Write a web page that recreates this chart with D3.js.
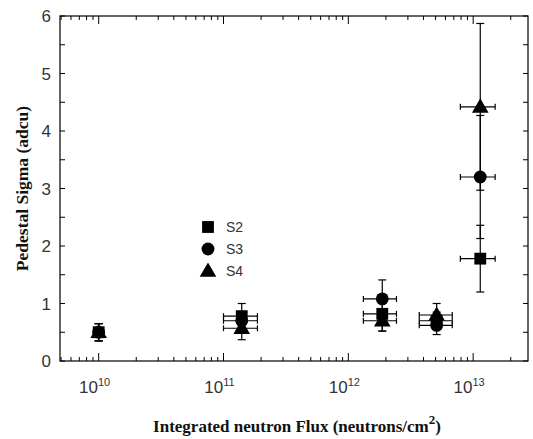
<!DOCTYPE html>
<html>
<head>
<meta charset="utf-8">
<script src="https://cdn.jsdelivr.net/npm/d3@7"></script>
<style>
  body { margin: 0; background: #fff; }
  svg { display: block; }
  .tick-label { font-family: "Liberation Sans", Arial, sans-serif; fill: #333; }
  .title { font-family: "Liberation Serif", "Times New Roman", serif; font-weight: bold; fill: #111; }
</style>
</head>
<body>
<svg width="533" height="439"></svg>
<script>
// flux values (neutrons/cm^2) and horizontal error limits
var flux    = [1e10, 1.4e11, 1.87e12, 5.1e12, 1.14e13];
var fluxLo  = [1e10, 1.0e11, 1.32e12, 3.7e12, 7.9e12];
var fluxHi  = [1e10, 1.87e11, 2.43e12, 6.8e12, 1.5e13];

var seriesNames = ["S2", "S3", "S4"];
var s2 = [0.50, 0.78, 0.82, 0.70, 1.78];
var s3 = [0.50, 0.70, 1.08, 0.62, 3.20];
var s4 = [0.50, 0.57, 0.70, 0.80, 4.42];
var s2err = [0.15, 0.22, 0.30, 0.15, 0.58];
var s3err = [0.15, 0.15, 0.33, 0.16, 1.07];
var s4err = [0.15, 0.20, 0.18, 0.20, 1.45];

var yTicks = [0, 1, 2, 3, 4, 5, 6];
var xTicks = [1e10, 1e11, 1e12, 1e13];

var svg = d3.select("svg");
var mLeft = 60, mRight = 528, mTop = 16, mBottom = 361;

var x = d3.scaleLog().domain([4.9e9, 2.75e13]).range([mLeft, mRight]);
var y = d3.scaleLinear().domain([0, 6]).range([mBottom, mTop]);

// frame
svg.append("rect")
    .attr("x", mLeft).attr("y", mTop)
    .attr("width", mRight - mLeft).attr("height", mBottom - mTop)
    .attr("fill", "none").attr("stroke", "#000").attr("stroke-width", 1.2);

// y ticks (left and right, pointing in)
var yAll = d3.range(0, 6.01, 0.5);
yAll.forEach(function(v) {
  svg.append("line").attr("x1", mLeft).attr("x2", mLeft + 5)
      .attr("y1", y(v)).attr("y2", y(v)).attr("stroke", "#000");
  svg.append("line").attr("x1", mRight).attr("x2", mRight - 5)
      .attr("y1", y(v)).attr("y2", y(v)).attr("stroke", "#000");
});
yTicks.forEach(function(v) {
  svg.append("text").attr("class", "tick-label")
      .attr("x", 51).attr("y", y(v) + 6)
      .attr("text-anchor", "end").attr("font-size", 17)
      .text(v);
});

// x ticks (log, bottom and top)
var minors = [];
for (var e = 9; e <= 13; e++) {
  for (var m = 1; m <= 9; m++) {
    var v = m * Math.pow(10, e);
    if (v >= x.domain()[0] && v <= x.domain()[1]) minors.push({v: v, major: m === 1});
  }
}
minors.forEach(function(t) {
  var len = t.major ? 8 : 4;
  svg.append("line").attr("x1", x(t.v)).attr("x2", x(t.v))
      .attr("y1", mBottom).attr("y2", mBottom - len).attr("stroke", "#000");
  svg.append("line").attr("x1", x(t.v)).attr("x2", x(t.v))
      .attr("y1", mTop).attr("y2", mTop + len).attr("stroke", "#000");
});
xTicks.forEach(function(v) {
  var t = svg.append("text").attr("class", "tick-label")
      .attr("x", x(v) - 4).attr("y", 393)
      .attr("text-anchor", "middle").attr("font-size", 17);
  t.append("tspan").text("10");
  t.append("tspan").attr("dy", -7).attr("font-size", 11).text(Math.round(Math.log10(v)));
});

// axis titles
svg.append("text").attr("class", "title")
    .attr("transform", "translate(28," + ((mTop + mBottom) / 2) + ") rotate(-90)")
    .attr("text-anchor", "middle").attr("font-size", 17.5)
    .text("Pedestal Sigma (adcu)");

var xt = svg.append("text").attr("class", "title")
    .attr("x", 297).attr("y", 432)
    .attr("text-anchor", "middle").attr("font-size", 17);
xt.append("tspan").text("Integrated neutron Flux (neutrons/cm");
xt.append("tspan").attr("dy", -8).attr("font-size", 13).text("2");
xt.append("tspan").attr("dy", 8).text(")");

// markers
var symbols = [d3.symbolSquare, d3.symbolCircle, d3.symbolTriangle];
var symSize = [140, 130, 120];
var vals = [s2, s3, s4];
var errs = [s2err, s3err, s4err];

var g = svg.append("g");
vals.forEach(function(arr, si) {
  arr.forEach(function(v, i) {
    var cx = x(flux[i]), cy = y(v);
    var err = errs[si][i];
    // vertical error bar
    g.append("line").attr("x1", cx).attr("x2", cx)
        .attr("y1", y(v + err)).attr("y2", y(v - err)).attr("stroke", "#000").attr("stroke-width", 1.2);
    [v + err, v - err].forEach(function(e) {
      g.append("line").attr("x1", cx - 4).attr("x2", cx + 4)
          .attr("y1", y(e)).attr("y2", y(e)).attr("stroke", "#000").attr("stroke-width", 1.2);
    });
    // horizontal error bar
    if (fluxHi[i] > fluxLo[i]) {
      g.append("line").attr("x1", x(fluxLo[i])).attr("x2", x(fluxHi[i]))
          .attr("y1", cy).attr("y2", cy).attr("stroke", "#000").attr("stroke-width", 1.2);
      [fluxLo[i], fluxHi[i]].forEach(function(f) {
        g.append("line").attr("x1", x(f)).attr("x2", x(f))
            .attr("y1", cy - 3).attr("y2", cy + 3).attr("stroke", "#000").attr("stroke-width", 1.2);
      });
    }
  });
});
vals.forEach(function(arr, si) {
  arr.forEach(function(v, i) {
    g.append("path")
        .attr("d", d3.symbol().type(symbols[si]).size(symSize[si]))
        .attr("transform", "translate(" + x(flux[i]) + "," + (y(v) + (si === 2 ? 1 : 0)) + ")")
        .attr("fill", "#000");
  });
});

// legend
seriesNames.forEach(function(name, i) {
  var ly = 227 + i * 22;
  svg.append("path")
      .attr("d", d3.symbol().type(symbols[i]).size(symSize[i]))
      .attr("transform", "translate(208," + (ly + (i === 2 ? 1 : 0)) + ")")
      .attr("fill", "#000");
  svg.append("text").attr("class", "tick-label")
      .attr("x", 226).attr("y", ly + 5).attr("font-size", 14)
      .text(name);
});
</script>
</body>
</html>
